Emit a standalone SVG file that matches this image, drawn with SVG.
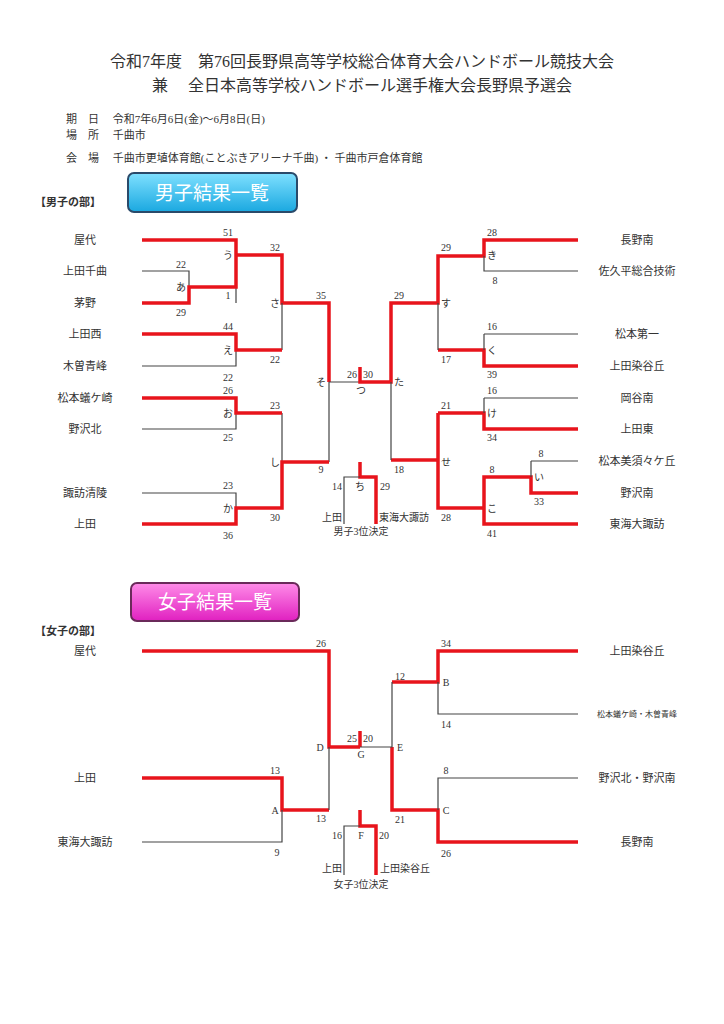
<svg xmlns="http://www.w3.org/2000/svg" width="724" height="1024" viewBox="0 0 724 1024">
<defs>
<linearGradient id="gb" x1="0" y1="0" x2="0" y2="1"><stop offset="0" stop-color="#7fe0ff"/><stop offset="1" stop-color="#1aa8e0"/></linearGradient>
<linearGradient id="gp" x1="0" y1="0" x2="0" y2="1"><stop offset="0" stop-color="#ff8ce8"/><stop offset="1" stop-color="#e020c0"/></linearGradient>
</defs>
<style>
text{font-family:"Liberation Serif","Noto Sans CJK JP",serif;fill:#333}
.t{font-size:16px;text-anchor:middle}
.i{font-size:11px}
.n{font-size:11px;text-anchor:middle}
.s{font-size:10px;text-anchor:middle}
.k{stroke:#444;stroke-width:1.2;fill:none}
.r{stroke:#e8141c;stroke-width:3.5;fill:none}
.b{font-family:"Noto Sans CJK JP",sans-serif;font-size:19px;fill:#fff;text-anchor:middle}
</style>
<rect width="724" height="1024" fill="#fff"/>
<text class="t" x="362" y="67">令和7年度　第76回長野県高等学校総合体育大会ハンドボール競技大会</text>
<text class="t" x="362" y="91">兼　 全日本高等学校ハンドボール選手権大会長野県予選会</text>
<text class="i" x="66" y="123">期　日　 令和7年6月6日(金)～6月8日(日)</text>
<text class="i" x="66" y="139">場　所　 千曲市</text>
<text class="i" x="66" y="162">会　場　 千曲市更埴体育館(ことぶきアリーナ千曲) ・ 千曲市戸倉体育館</text>
<g id="banner-m"><rect x="128" y="173" width="169" height="39" rx="6" fill="url(#gb)" stroke="#2a4a6a" stroke-width="2"/><text class="b" x="212" y="200">男子結果一覧</text></g>
<text class="i" x="35" y="206" style="font-weight:bold">【男子の部】</text>
<g id="banner-w"><rect x="131" y="583" width="168" height="38" rx="6" fill="url(#gp)" stroke="#6a2a5a" stroke-width="2"/><text class="b" x="215" y="609">女子結果一覧</text></g>
<text class="i" x="35" y="635" style="font-weight:bold">【女子の部】</text>

<g id="connectors">
<path class="k" d="M142 271H189V287M236 287V303"/>
<path class="r" d="M142 303H189V287H236V255M142 240H236V255H282V303H329V382"/>
<path class="k" d="M142 366H236V350M282 303V350M142 429H236V413M142 493H236V508M282 413V462M329 382V462M329 382H360"/>
<path class="r" d="M142 334H236V350H282M142 398H236V413H282M142 524H236V508H282V462H329"/>
<path class="r" d="M360 367V382H391V303H438V256H484V240H578M438 350H484V366H578M391 460H438V508H484V524H578M438 413H484V429H578M438 413V460M484 508V477H531V493H578M360 462V477H376V524"/>
<path class="k" d="M391 382V460M438 303V350M484 256V271H578M484 334V350M484 334H578M484 398V413M484 398H578M531 461V477M531 461H578M360 477H344V524"/>
<path class="r" d="M142 651H329V747H360M360 731V747M142 778H282V810H329M392 747V810H438V842H578M392 682H438V651H578M360 810V826H376V875"/>
<path class="k" d="M329 747V810M282 810V842H142M360 747H392V682M438 682V714H578M438 810V778H578M360 826H344V875"/>
</g>

<g id="names-m">
<text class="n" x="85" y="244">屋代</text><text class="n" x="85" y="275">上田千曲</text><text class="n" x="85" y="307">茅野</text><text class="n" x="85" y="338">上田西</text><text class="n" x="85" y="370">木曽青峰</text><text class="n" x="85" y="402">松本蟻ケ崎</text><text class="n" x="85" y="433">野沢北</text><text class="n" x="85" y="497">諏訪清陵</text><text class="n" x="85" y="528">上田</text>
<text class="n" x="637" y="244">長野南</text><text class="n" x="637" y="275">佐久平総合技術</text><text class="n" x="637" y="338">松本第一</text><text class="n" x="637" y="370">上田染谷丘</text><text class="n" x="637" y="402">岡谷南</text><text class="n" x="637" y="433">上田東</text><text class="n" x="637" y="465">松本美須々ケ丘</text><text class="n" x="637" y="497">野沢南</text><text class="n" x="637" y="528">東海大諏訪</text>
</g>
<g id="scores-m">
<text class="s" x="181" y="268">22</text><text class="s" x="181" y="316">29</text><text class="s" x="181" y="291">あ</text>
<text class="s" x="228" y="236">51</text><text class="s" x="228" y="299">1</text><text class="s" x="228" y="259">う</text>
<text class="s" x="228" y="330">44</text><text class="s" x="228" y="381">22</text><text class="s" x="228" y="354">え</text>
<text class="s" x="228" y="394">26</text><text class="s" x="228" y="441">25</text><text class="s" x="228" y="417">お</text>
<text class="s" x="228" y="489">23</text><text class="s" x="228" y="539">36</text><text class="s" x="228" y="512">か</text>
<text class="s" x="275" y="251">32</text><text class="s" x="275" y="363">22</text><text class="s" x="275" y="307">さ</text>
<text class="s" x="275" y="409">23</text><text class="s" x="275" y="521">30</text><text class="s" x="275" y="466">し</text>
<text class="s" x="321" y="299">35</text><text class="s" x="321" y="473">9</text><text class="s" x="321" y="386">そ</text>
<text class="s" x="352" y="378">26</text><text class="s" x="368" y="378">30</text><text class="s" x="361" y="394">つ</text>
<text class="s" x="399" y="386">た</text><text class="s" x="399" y="299">29</text><text class="s" x="399" y="473">18</text>
<text class="s" x="446" y="251">29</text><text class="s" x="446" y="363">17</text><text class="s" x="446" y="307">す</text>
<text class="s" x="446" y="409">21</text><text class="s" x="446" y="521">28</text><text class="s" x="446" y="466">せ</text>
<text class="s" x="492" y="236">28</text><text class="s" x="495" y="284">8</text><text class="s" x="492" y="259">き</text>
<text class="s" x="492" y="330">16</text><text class="s" x="492" y="378">39</text><text class="s" x="492" y="354">く</text>
<text class="s" x="492" y="394">16</text><text class="s" x="492" y="441">34</text><text class="s" x="492" y="417">け</text>
<text class="s" x="492" y="473">8</text><text class="s" x="492" y="537">41</text><text class="s" x="492" y="512">こ</text>
<text class="s" x="541" y="457">8</text><text class="s" x="539" y="505">33</text><text class="s" x="539" y="481">い</text>
<text class="s" x="337" y="490">14</text><text class="s" x="385" y="490">29</text><text class="s" x="360" y="490">ち</text>
<text class="s" x="332" y="521">上田</text><text class="s" x="404" y="521">東海大諏訪</text><text class="s" x="361" y="535">男子3位決定</text>
</g>
<g id="names-w">
<text class="n" x="85" y="655">屋代</text><text class="n" x="85" y="782">上田</text><text class="n" x="85" y="846">東海大諏訪</text>
<text class="n" x="637" y="655">上田染谷丘</text><text x="637" y="717" style="font-size:8px;text-anchor:middle">松本蟻ケ崎・木曽青峰</text><text class="n" x="637" y="782">野沢北・野沢南</text><text class="n" x="637" y="846">長野南</text>
</g>
<g id="scores-w">
<text class="s" x="321" y="647">26</text><text class="s" x="321" y="822">13</text><text class="s" x="320" y="751">D</text>
<text class="s" x="275" y="774">13</text><text class="s" x="277" y="856">9</text><text class="s" x="275" y="814">A</text>
<text class="s" x="352" y="742">25</text><text class="s" x="368" y="742">20</text><text class="s" x="361" y="758">G</text>
<text class="s" x="400" y="751">E</text><text class="s" x="400" y="680">12</text><text class="s" x="400" y="823">21</text>
<text class="s" x="446" y="647">34</text><text class="s" x="446" y="728">14</text><text class="s" x="446" y="686">B</text>
<text class="s" x="446" y="774">8</text><text class="s" x="446" y="857">26</text><text class="s" x="446" y="814">C</text>
<text class="s" x="337" y="839">16</text><text class="s" x="384" y="839">20</text><text class="s" x="361" y="839">F</text>
<text class="s" x="332" y="872">上田</text><text class="s" x="405" y="872">上田染谷丘</text><text class="s" x="361" y="888">女子3位決定</text>
</g>
</svg>
